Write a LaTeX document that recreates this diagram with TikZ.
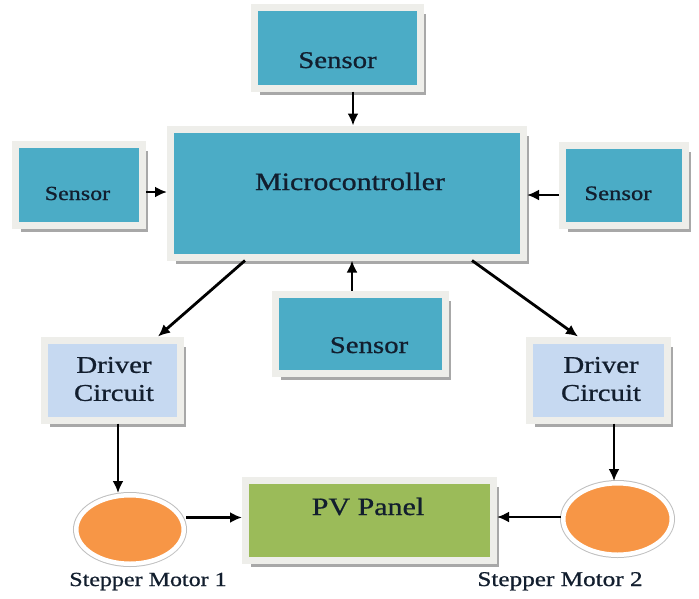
\documentclass[tikz,border=0pt]{standalone}
\usepackage{fontspec}
\setmainfont[FakeStretch=1.2,FakeBold=0.8]{Liberation Serif}
\usetikzlibrary{shapes.geometric,shadows,arrows.meta}
\definecolor{tealfill}{HTML}{4BACC6}
\definecolor{drvfill}{HTML}{C6D9F1}
\definecolor{pvfill}{HTML}{9BBB59}
\definecolor{motfill}{HTML}{F79646}
\definecolor{framecol}{HTML}{EEEEEA}
\definecolor{shadowcol}{HTML}{A8A8A8}
\definecolor{txtcol}{HTML}{121E2E}
\begin{document}
\begin{tikzpicture}[x=1pt,y=-1pt,
  boxbase/.style={rectangle, draw=framecol, line width=7pt, inner sep=0pt,
    drop shadow={shadow xshift=5.5pt, shadow yshift=-6.5pt, fill=shadowcol, opacity=1}},
  sensorbox/.style={boxbase, fill=tealfill},
  drvbox/.style={boxbase, fill=drvfill},
  pvbox/.style={boxbase, fill=pvfill},
  motor/.style={ellipse, fill=motfill, draw=white, line width=4.5pt, inner sep=0pt,
    preaction={draw=gray!50, line width=6.5pt},
    drop shadow={shadow xshift=2pt, shadow yshift=-2pt, fill=gray!40, opacity=1}},
  txt/.style={text=txtcol, inner sep=0pt, anchor=base},
  arr/.style={-{Latex[length=12pt,width=11pt]}, line width=2.8pt, black}
]
\useasboundingbox[fill=white] (0,0) rectangle (699,598);

% boxes
\node[sensorbox, minimum width=166pt, minimum height=81pt] (stop) at (337.5,47.5) {};
\node[sensorbox, minimum width=127pt, minimum height=81pt] (sleft) at (79,184.5) {};
\node[sensorbox, minimum width=123pt, minimum height=80pt] (sright) at (624,185) {};
\node[sensorbox, minimum width=353pt, minimum height=128pt] (micro) at (347,193) {};
\node[sensorbox, minimum width=170pt, minimum height=79pt] (sbot) at (360.5,333.5) {};
\node[drvbox, minimum width=136pt, minimum height=80pt] (dleft) at (112.5,380) {};
\node[drvbox, minimum width=138pt, minimum height=80pt] (dright) at (598.5,380) {};
\node[pvbox, minimum width=248pt, minimum height=80pt] (pv) at (369.5,520) {};
\node[motor, minimum width=107.5pt, minimum height=68.5pt] (m1) at (130,529.5) {};
\node[motor, minimum width=108.5pt, minimum height=71.5pt] (m2) at (617.5,519) {};

% texts
\node[txt, font=\fontsize{24}{28}\selectfont] (tstop) at (337.5,68) {Sensor};
\node[txt, font=\fontsize{20}{24}\selectfont] (tsleft) at (77.5,200) {Sensor};
\node[txt, font=\fontsize{20.5}{24}\selectfont] (tsright) at (618,200) {Sensor};
\node[txt, font=\fontsize{25}{30}\selectfont] (tmicro) at (350,190) {Microcontroller};
\node[txt, font=\fontsize{24}{28}\selectfont] (tsbot) at (369,353) {Sensor};
\node[text=txtcol, inner sep=0pt, align=center, font=\fontsize{24}{28}\selectfont] (tdleft) at (114,379) {Driver\\Circuit};
\node[text=txtcol, inner sep=0pt, align=center, font=\fontsize{24}{28}\selectfont] (tdright) at (601,379) {Driver\\Circuit};
\node[txt, font=\fontsize{25}{30}\selectfont] (tpv) at (368,515) {PV Panel};
\node[txt, font=\fontsize{20}{24}\selectfont] (tm1) at (148,586) {Stepper Motor 1};
\node[txt, font=\fontsize{21}{24}\selectfont] (tm2) at (560,586) {Stepper Motor 2};

% connectors
\draw[arr] ([xshift=15.5pt]stop.south) -- ([xshift=15.5pt]stop.south |- micro.north);
\draw[arr] ([yshift=-7.5pt]sleft.east) -- ([yshift=-7.5pt]sleft.east -| micro.west);
\draw[arr] ([yshift=-10pt]sright.west) -- ([yshift=-10pt]sright.west -| micro.east);
\draw[arr] ([xshift=-8.5pt]sbot.north) -- ([xshift=-8.5pt]sbot.north |- micro.south);
\draw[arr] ([xshift=-102pt]micro.south) -- ([xshift=45.5pt]dleft.north);
\draw[arr] ([xshift=125pt]micro.south) -- ([xshift=-20.5pt]dright.north);
\draw[arr] ([xshift=5.5pt]dleft.south) -- ([xshift=5.5pt]dleft.south |- m1.north);
\draw[arr] ([xshift=15.5pt]dright.south) -- ([xshift=15.5pt]dright.south |- m2.north);
\draw[arr] ([yshift=12pt]m1.east) -- ([yshift=12pt]m1.east -| pv.west);
\draw[arr] ([yshift=2pt]m2.west) -- ([yshift=2pt]m2.west -| pv.east);
\end{tikzpicture}
\end{document}
